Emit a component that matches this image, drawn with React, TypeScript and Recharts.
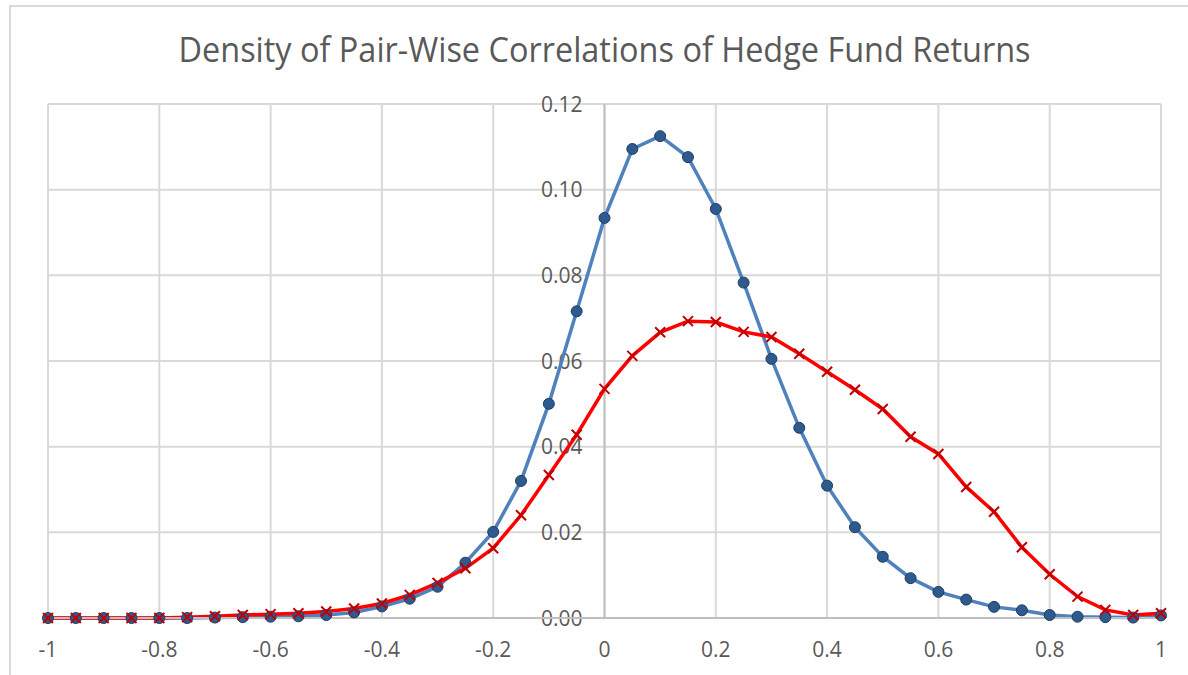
import { CartesianGrid, Line, LineChart, ReferenceLine, XAxis, YAxis } from "recharts";

const correlations = [
  -1, -0.95, -0.9, -0.85, -0.8, -0.75, -0.7, -0.65, -0.6, -0.55, -0.5, -0.45, -0.4, -0.35, -0.3,
  -0.25, -0.2, -0.15, -0.1, -0.05, 0, 0.05, 0.1, 0.15, 0.2, 0.25, 0.3, 0.35, 0.4, 0.45, 0.5, 0.55,
  0.6, 0.65, 0.7, 0.75, 0.8, 0.85, 0.9, 0.95, 1,
];

const blueDensity = [
  0, 0, 0, 0, 0, 0, 0.0001, 0.0002, 0.0003, 0.0004, 0.0007, 0.0013, 0.0027, 0.0045, 0.0073,
  0.0129, 0.0201, 0.032, 0.05, 0.0716, 0.0934, 0.1095, 0.1125, 0.1076, 0.0955, 0.0783, 0.0605,
  0.0444, 0.0309, 0.0212, 0.0143, 0.0093, 0.0061, 0.0043, 0.0026, 0.0018, 0.0007, 0.0003, 0.0002,
  0.0001, 0.0006,
];

const redDensity = [
  0, 0, 0, 0, 0, 0.0002, 0.0004, 0.0007, 0.0009, 0.0011, 0.0015, 0.0022, 0.0034, 0.0054, 0.0082,
  0.0116, 0.0163, 0.024, 0.0334, 0.0428, 0.0535, 0.0612, 0.0667, 0.0693, 0.0691, 0.0668, 0.0656,
  0.0617, 0.0575, 0.0533, 0.0488, 0.0423, 0.0383, 0.0306, 0.0248, 0.0165, 0.0102, 0.005, 0.0019,
  0.0007, 0.0011,
];

const xTicks = [-1, -0.8, -0.6, -0.4, -0.2, 0, 0.2, 0.4, 0.6, 0.8, 1];
const yTicks = [0, 0.02, 0.04, 0.06, 0.08, 0.1, 0.12];

const title = "Density of Pair-Wise Correlations of Hedge Fund Returns";

const W = 1188;
const H = 675;
const PLOT_LEFT = 48;
const PLOT_RIGHT = 1161;
const AXIS_X = (PLOT_LEFT + PLOT_RIGHT) / 2;
const FONT = "'Open Sans', 'Noto Sans', sans-serif";
const TEXT = "#595959";

const data = correlations.map((x, i) => ({ x, blue: blueDensity[i], red: redDensity[i] }));

function CircleDot(props: any) {
  const { cx, cy, index } = props;
  if (cx == null || cy == null) return null;
  return <circle key={`b${index}`} cx={cx} cy={cy} r={5.5} fill="#2f5a8e" stroke="#1f3e66" strokeWidth={1} />;
}

function CrossDot(props: any) {
  const { cx, cy, index } = props;
  if (cx == null || cy == null) return null;
  const s = 5;
  return (
    <path
      key={`r${index}`}
      d={`M${cx - s},${cy - s}L${cx + s},${cy + s}M${cx - s},${cy + s}L${cx + s},${cy - s}`}
      stroke="#c00000"
      strokeWidth={2}
      fill="none"
    />
  );
}

// y labels sit just left of the vertical axis drawn at x = 0
function YLabel(props: any) {
  const { viewBox, value } = props;
  if (!viewBox) return null;
  return (
    <text
      x={viewBox.x + viewBox.width / 2 - 22}
      y={viewBox.y}
      dy={7.5}
      textAnchor="end"
      fontSize={21}
      fill={TEXT}
      fontFamily={FONT}
    >
      {Number(value).toFixed(2)}
    </text>
  );
}

function XTick(props: any) {
  const { x, y, payload } = props;
  return (
    <text x={x} y={y} dy={31} textAnchor="middle" fontSize={21} fill={TEXT} fontFamily={FONT}>
      {String(payload.value)}
    </text>
  );
}

export default function App() {
  return (
    <div
      style={{
        position: "fixed",
        left: 0,
        top: 0,
        width: W,
        height: H,
        overflow: "hidden",
        background: "#fff",
      }}
    >
      <div
        style={{
          position: "absolute",
          left: 9,
          top: 5,
          width: W,
          height: H,
          borderLeft: "2px solid #d9d9d9",
          borderTop: "2px solid #d9d9d9",
        }}
      />
      <svg width={W} height={80} style={{ position: "absolute", left: 0, top: 0 }}>
        <text
          x={AXIS_X}
          y={62}
          textAnchor="middle"
          fontSize={34}
          fill={TEXT}
          fontFamily={FONT}
          textLength={852}
          lengthAdjust="spacingAndGlyphs"
        >
          {title}
        </text>
      </svg>
      <div style={{ position: "absolute", left: 0, top: 0 }}>
        <LineChart
          width={W}
          height={H}
          data={data}
          margin={{ top: 104, right: W - PLOT_RIGHT, bottom: 17, left: PLOT_LEFT }}
        >
          <CartesianGrid stroke="#d9d9d9" strokeWidth={2} />
          <XAxis
            dataKey="x"
            type="number"
            domain={[-1, 1]}
            ticks={xTicks}
            height={40}
            tickLine={false}
            axisLine={{ stroke: "#bfbfbf", strokeWidth: 2 }}
            tick={<XTick />}
            interval={0}
          />
          <YAxis type="number" domain={[0, 0.12]} ticks={yTicks} hide />
          <ReferenceLine x={0} stroke="#bfbfbf" strokeWidth={2} />
          {yTicks.map((v) => (
            <ReferenceLine
              key={v}
              y={v}
              stroke="none"
              ifOverflow="visible"
              label={<YLabel value={v} />}
            />
          ))}
          <Line
            dataKey="blue"
            stroke="#4f81bd"
            strokeWidth={3.5}
            dot={CircleDot}
            activeDot={false}
            isAnimationActive={false}
          />
          <Line
            dataKey="red"
            stroke="#ff0000"
            strokeWidth={3.5}
            dot={CrossDot}
            activeDot={false}
            isAnimationActive={false}
          />
        </LineChart>
      </div>
    </div>
  );
}
